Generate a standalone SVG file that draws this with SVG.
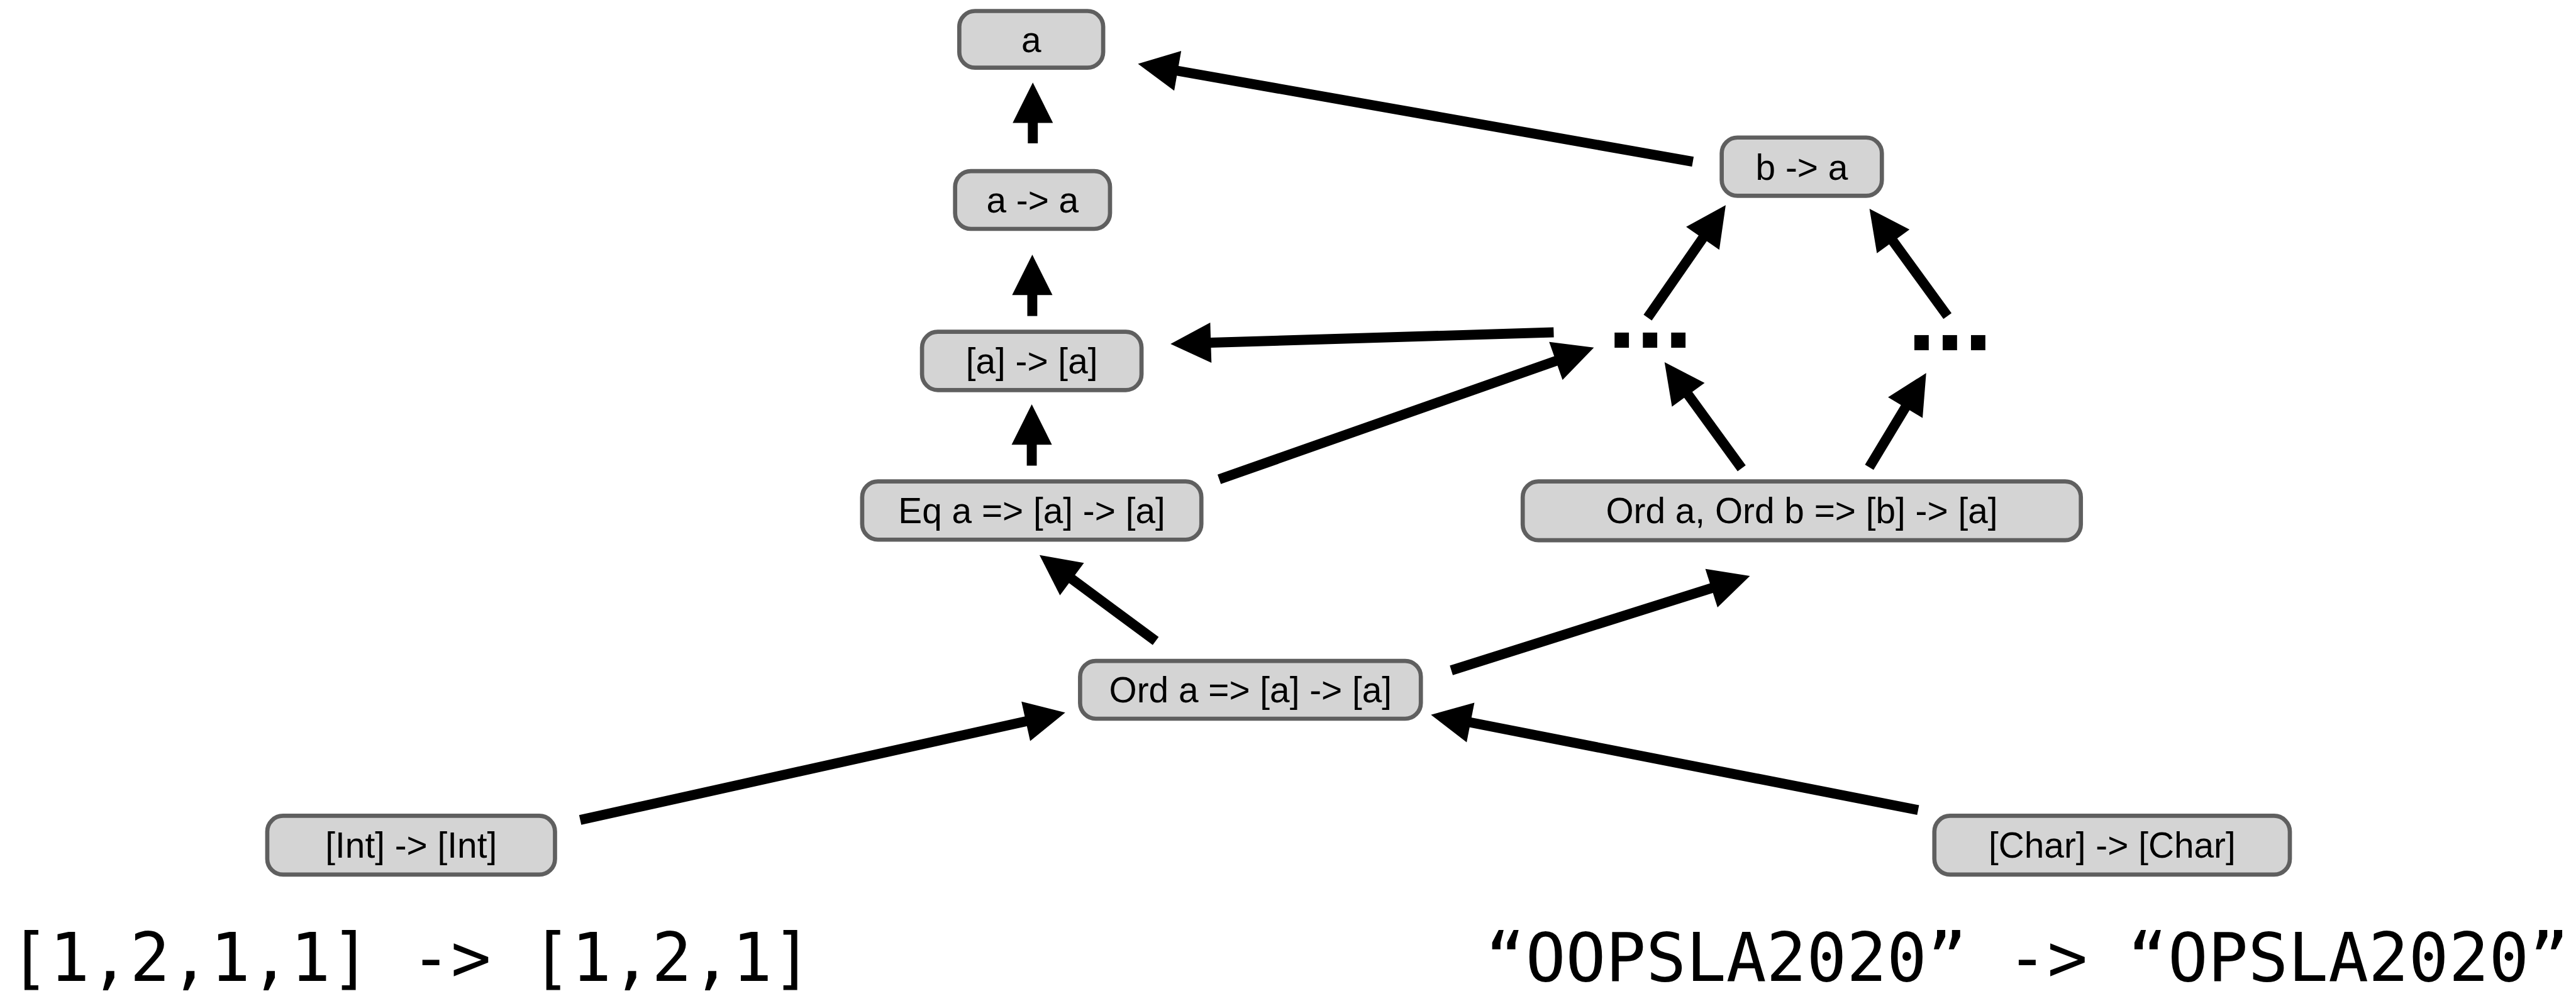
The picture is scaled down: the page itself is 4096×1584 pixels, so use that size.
<svg xmlns="http://www.w3.org/2000/svg" width="4096" height="1584" viewBox="0 0 4096 1584">
  <style>
    .node rect { fill: #d4d4d4; stroke: #5f5f5f; stroke-width: 8; }
    .node text { font-family: "Liberation Sans", Arial, Helvetica, sans-serif; font-size: 68px; fill: #000; text-anchor: middle; }
    .edge { stroke: #000; stroke-width: 19; fill: none; stroke-linecap: butt; marker-end: url(#head); }
    .dots { font-family: "Liberation Sans", Arial, sans-serif; font-weight: bold; font-size: 194px; fill: #000; text-anchor: middle; }
    .example { font-family: "DejaVu Sans Mono", "Liberation Mono", monospace; font-size: 127px; fill: #000; }
  </style>
  <defs>
    <!-- solid triangular head, 73 long and 73 wide; origin sits at the base -->
    <marker id="head" markerUnits="userSpaceOnUse" markerWidth="80" markerHeight="80" viewBox="-2 -37 76 74" refX="1" refY="0" orient="auto" overflow="visible">
      <path d="M0,-36.5 L73,0 L0,36.5 Z" fill="#000"/>
    </marker>
  </defs>
  <rect width="4096" height="1584" fill="#fff"/>
  <g transform="scale(0.83490)">
    <g id="connectors">
      <line class="edge" x1="1967" y1="273" x2="1967" y2="233"/>
      <line class="edge" x1="1966" y1="602" x2="1966" y2="561"/>
      <line class="edge" x1="1965" y1="887" x2="1965" y2="846"/>
      <line class="edge" x1="2201" y1="1221" x2="2040.7" y2="1102.4"/>
      <line class="edge" x1="2764" y1="1277" x2="3260.4" y2="1120"/>
      <line class="edge" x1="1105" y1="1562" x2="1954.7" y2="1373.8"/>
      <line class="edge" x1="3653" y1="1543" x2="2799.6" y2="1376"/>
      <line class="edge" x1="3224" y1="308" x2="2241.9" y2="134.7"/>
      <line class="edge" x1="2959" y1="633" x2="2305" y2="652.8"/>
      <line class="edge" x1="2322" y1="913" x2="2964.1" y2="687.2"/>
      <line class="edge" x1="3317" y1="892" x2="3214.7" y2="751.3"/>
      <line class="edge" x1="3560" y1="890" x2="3629.2" y2="775.5"/>
      <line class="edge" x1="3138" y1="605" x2="3243.4" y2="453"/>
      <line class="edge" x1="3709" y1="602" x2="3605" y2="459"/>
    </g>

    <g id="n-a" class="node">
      <rect x="1827" y="21" width="274" height="108" rx="30"/>
      <text x="1964" y="99">a</text>
    </g>
    <g id="n-a-to-a" class="node">
      <rect x="1819" y="326" width="295" height="110" rx="30"/>
      <text x="1966.5" y="405">a -&gt; a</text>
    </g>
    <g id="n-list-to-list" class="node">
      <rect x="1756" y="632" width="418" height="111" rx="30"/>
      <text x="1965" y="712">[a] -&gt; [a]</text>
    </g>
    <g id="n-eq" class="node">
      <rect x="1642" y="917" width="646" height="111" rx="30"/>
      <text x="1965" y="997">Eq a =&gt; [a] -&gt; [a]</text>
    </g>
    <g id="n-ord" class="node">
      <rect x="2057" y="1259" width="649" height="110" rx="30"/>
      <text x="2381.5" y="1338">Ord a =&gt; [a] -&gt; [a]</text>
    </g>
    <g id="n-b-to-a" class="node">
      <rect x="3279" y="262" width="305" height="111" rx="30"/>
      <text x="3431.5" y="342">b -&gt; a</text>
    </g>
    <g id="n-ord-ab" class="node">
      <rect x="2900" y="917" width="1063" height="112" rx="30"/>
      <text x="3431.5" y="997">Ord a, Ord b =&gt; [b] -&gt; [a]</text>
    </g>
    <g id="n-int" class="node">
      <rect x="509" y="1554" width="548" height="112" rx="30"/>
      <text x="783" y="1634">[Int] -&gt; [Int]</text>
    </g>
    <g id="n-char" class="node">
      <rect x="3684" y="1554" width="677" height="112" rx="30"/>
      <text x="4022.5" y="1634">[Char] -&gt; [Char]</text>
    </g>

    <g id="n-dots-left">
      <text class="dots" x="3142.5" y="662">...</text>
    </g>
    <g id="n-dots-right">
      <text class="dots" x="3713.5" y="667">...</text>
    </g>

    <text class="example" x="18" y="1868">[1,2,1,1] -&gt; [1,2,1]</text>
    <text class="example" x="4893" y="1868" text-anchor="end">“OOPSLA2020” -&gt; “OPSLA2020”</text>
  </g>
</svg>
